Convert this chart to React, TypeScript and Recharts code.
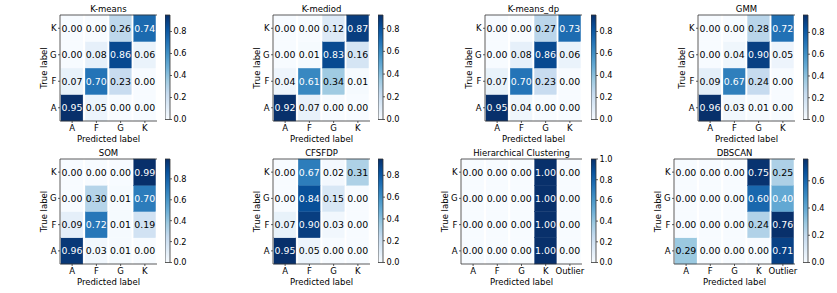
import React from 'react';
import { BarChart, Bar, XAxis, YAxis } from 'recharts';

const FONT = '"DejaVu Sans", sans-serif';

// ---------- data ----------
const trueLabels = ['A', 'F', 'G', 'K']; // bottom -> top
const predLabels4 = ['A', 'F', 'G', 'K'];
const predLabels5 = ['A', 'F', 'G', 'K', 'Outlier'];

const titles = ['K-means', 'K-mediod', 'K-means_dp', 'GMM', 'SOM', 'CFSFDP', 'Hierarchical Clustering', 'DBSCAN'];

// rows: true label A, F, G, K ; columns: predicted label
const kmeans = [
  [0.95, 0.05, 0.0, 0.0],
  [0.07, 0.7, 0.23, 0.0],
  [0.0, 0.08, 0.86, 0.06],
  [0.0, 0.0, 0.26, 0.74],
];
const kmediod = [
  [0.92, 0.07, 0.0, 0.0],
  [0.04, 0.61, 0.34, 0.01],
  [0.0, 0.01, 0.83, 0.16],
  [0.0, 0.0, 0.12, 0.87],
];
const kmeansDp = [
  [0.95, 0.04, 0.0, 0.0],
  [0.07, 0.7, 0.23, 0.0],
  [0.0, 0.08, 0.86, 0.06],
  [0.0, 0.0, 0.27, 0.73],
];
const gmm = [
  [0.96, 0.03, 0.01, 0.0],
  [0.09, 0.67, 0.24, 0.0],
  [0.0, 0.04, 0.9, 0.05],
  [0.0, 0.0, 0.28, 0.72],
];
const som = [
  [0.96, 0.03, 0.01, 0.0],
  [0.09, 0.72, 0.01, 0.19],
  [0.0, 0.3, 0.01, 0.7],
  [0.0, 0.0, 0.0, 0.99],
];
const cfsfdp = [
  [0.95, 0.05, 0.0, 0.0],
  [0.07, 0.9, 0.03, 0.0],
  [0.0, 0.84, 0.15, 0.0],
  [0.0, 0.67, 0.02, 0.31],
];
const hierarchical = [
  [0.0, 0.0, 0.0, 1.0, 0.0],
  [0.0, 0.0, 0.0, 1.0, 0.0],
  [0.0, 0.0, 0.0, 1.0, 0.0],
  [0.0, 0.0, 0.0, 1.0, 0.0],
];
const dbscan = [
  [0.29, 0.0, 0.0, 0.0, 0.71],
  [0.0, 0.0, 0.0, 0.24, 0.76],
  [0.0, 0.0, 0.0, 0.6, 0.4],
  [0.0, 0.0, 0.0, 0.75, 0.25],
];

const vmaxes = [0.95, 0.92, 0.95, 0.96, 0.99, 0.95, 1.0, 0.76];
const cbTicksA = [0, 0.2, 0.4, 0.6, 0.8];
const cbTicksB = [0, 0.2, 0.4, 0.6, 0.8, 1.0];
const cbTicksC = [0, 0.2, 0.4, 0.6];

// ---------- colormap ----------
const BLUES = ['#f7fbff', '#deebf7', '#c6dbef', '#9ecae1', '#6baed6', '#4292c6', '#2171b5', '#08519c', '#08306b'];
const hexToRgb = (h: string) => [parseInt(h.slice(1, 3), 16), parseInt(h.slice(3, 5), 16), parseInt(h.slice(5, 7), 16)];
function blues(t: number) {
  const tt = Math.max(0, Math.min(1, t));
  const p = tt * 8;
  const i = Math.min(7, Math.floor(p));
  const f = p - i;
  const a = hexToRgb(BLUES[i]);
  const b = hexToRgb(BLUES[i + 1]);
  const c = a.map((v, k) => Math.round(v + (b[k] - v) * f));
  return `rgb(${c[0]},${c[1]},${c[2]})`;
}

// ---------- layout ----------
const TOP_ROW = { top: 15, h: 106 };
const BOT_ROW = { top: 159, h: 105 };
const layouts = [
  { left: 59.5, w: 97, row: TOP_ROW },
  { left: 272.5, w: 97, row: TOP_ROW },
  { left: 485, w: 97, row: TOP_ROW },
  { left: 697.5, w: 97, row: TOP_ROW },
  { left: 59.5, w: 97, row: BOT_ROW },
  { left: 272.5, w: 97, row: BOT_ROW },
  { left: 461, w: 121, row: BOT_ROW },
  { left: 673.5, w: 121, row: BOT_ROW },
];

const LABEL_FS = 8.5;
const CELL_FS = 9.4;
const CB_FS = 8.2;
const LINE = '#333';

type PanelProps = {
  id: number;
  title: string;
  cols: string[];
  matrix: number[][];
  vmax: number;
  cbTicks: number[];
  left: number;
  top: number;
  w: number;
  h: number;
};

function Panel({ id, title, cols, matrix, vmax, cbTicks, left, top, w, h }: PanelProps) {
  const YW = 40;
  const MT = 14;
  const XH = 30;
  const MR = 4;
  const TOPH = 1;
  const cellW = w / cols.length;
  const data = cols.map((c, j) => {
    const d: any = { name: c };
    trueLabels.forEach((_, r) => {
      d['r' + r] = 1;
      d['v' + r] = matrix[r][j];
    });
    return d;
  });

  const shapeFor = (r: number) => (p: any) => {
    const v: number = p.payload['v' + r];
    const fill = blues(v / vmax);
    return (
      <g>
        <rect x={p.x} y={p.y} width={p.width} height={p.height} fill={fill} stroke={fill} strokeWidth={0.4} />
        <text
          x={p.x + p.width / 2}
          y={p.y + p.height / 2}
          textAnchor="middle"
          dominantBaseline="central"
          fontSize={CELL_FS}
          fontFamily={FONT}
          fill={v > vmax / 2 ? '#ffffff' : '#000000'}
        >
          {v.toFixed(2)}
        </text>
      </g>
    );
  };

  const cbW = 5;
  const cbLeft = left + w + 8.7;
  const cbTop = top + 0.3;
  const cbH = h - 1.5;
  const CBM = 6;
  const gid = `cbgrad${id}`;

  return (
    <>
      <div style={{ position: 'absolute', left: left - YW, top: top - MT }}>
        <BarChart
          width={YW + w + MR}
          height={MT + h + XH}
          data={data}
          margin={{ top: MT - TOPH, right: MR, bottom: 0, left: 0 }}
          barCategoryGap={0}
          barGap={0}
        >
          <XAxis
            dataKey="name"
            type="category"
            height={XH}
            interval={0}
            tickSize={2}
            tickMargin={2}
            tick={{ fontSize: LABEL_FS, fill: '#000', fontFamily: FONT }}
            tickLine={{ stroke: LINE, strokeWidth: 0.8 }}
            axisLine={{ stroke: LINE, strokeWidth: 0.8 }}
            label={() => (
              <text
                x={YW + w / 2}
                y={MT + h + 18}
                textAnchor="middle"
                dominantBaseline="central"
                fontSize={LABEL_FS}
                fontFamily={FONT}
                fill="#000"
              >
                Predicted label
              </text>
            )}
          />
          <XAxis
            xAxisId="t"
            dataKey="name"
            type="category"
            orientation="top"
            height={TOPH}
            tick={false}
            tickLine={false}
            axisLine={{ stroke: LINE, strokeWidth: 0.8 }}
          />
          <YAxis
            type="number"
            domain={[0, 4]}
            ticks={[0.5, 1.5, 2.5, 3.5]}
            tickFormatter={(v: number) => trueLabels[Math.floor(v)]}
            width={YW}
            interval={0}
            tickSize={2}
            tickMargin={1.5}
            tick={{ fontSize: LABEL_FS, fill: '#000', fontFamily: FONT }}
            tickLine={{ stroke: LINE, strokeWidth: 0.8 }}
            axisLine={{ stroke: LINE, strokeWidth: 0.8 }}
            label={() => (
              <g>
                <text
                  x={YW - 16}
                  y={MT + h / 2}
                  textAnchor="middle"
                  dominantBaseline="central"
                  fontSize={LABEL_FS}
                  fontFamily={FONT}
                  fill="#000"
                  transform={`rotate(-90 ${YW - 16} ${MT + h / 2})`}
                >
                  True label
                </text>
                <text
                  x={YW + w / 2}
                  y={MT - 6}
                  textAnchor="middle"
                  dominantBaseline="central"
                  fontSize={LABEL_FS}
                  fontFamily={FONT}
                  fill="#000"
                >
                  {title}
                </text>
              </g>
            )}
          />
          <YAxis
            yAxisId="r"
            orientation="right"
            width={0}
            domain={[0, 4]}
            tick={false}
            tickLine={false}
            axisLine={{ stroke: LINE, strokeWidth: 0.8 }}
          />
          {trueLabels.map((_, r) => (
            <Bar
              key={r}
              dataKey={'r' + r}
              stackId="s"
              barSize={cellW}
              isAnimationActive={false}
              shape={shapeFor(r)}
            />
          ))}
        </BarChart>
      </div>
      <div style={{ position: 'absolute', left: cbLeft, top: cbTop - CBM }}>
        <BarChart
          width={cbW + 28}
          height={cbH + 2 * CBM}
          data={[{ name: 'cb', v: vmax }]}
          margin={{ top: CBM, right: 0, bottom: CBM, left: 0 }}
          barCategoryGap={0}
        >
          <defs>
            <linearGradient id={gid} x1="0" y1="1" x2="0" y2="0">
              {BLUES.map((c, i) => (
                <stop key={i} offset={i / 8} stopColor={c} />
              ))}
            </linearGradient>
          </defs>
          <XAxis dataKey="name" hide />
          <YAxis
            orientation="right"
            type="number"
            domain={[0, vmax]}
            ticks={cbTicks}
            interval={0}
            width={28}
            tickSize={2}
            tickMargin={1.5}
            axisLine={false}
            tickFormatter={(v: number) => v.toFixed(1)}
            tick={{ fontSize: CB_FS, fill: '#000', fontFamily: FONT }}
            tickLine={{ stroke: LINE, strokeWidth: 0.8 }}
          />
          <Bar dataKey="v" fill={`url(#${gid})`} stroke={LINE} strokeWidth={0.8} isAnimationActive={false} />
        </BarChart>
      </div>
    </>
  );
}

const matrices = [kmeans, kmediod, kmeansDp, gmm, som, cfsfdp, hierarchical, dbscan];
const colSets = [predLabels4, predLabels4, predLabels4, predLabels4, predLabels4, predLabels4, predLabels5, predLabels5];
const tickSets = [cbTicksA, cbTicksA, cbTicksA, cbTicksA, cbTicksA, cbTicksA, cbTicksB, cbTicksC];

export default function App() {
  return (
    <div
      style={{
        position: 'absolute',
        left: 0,
        top: 0,
        width: 837,
        height: 293,
        background: '#ffffff',
        fontFamily: FONT,
        overflow: 'hidden',
      }}
    >
      {titles.map((t, i) => (
        <Panel
          key={i}
          id={i}
          title={t}
          cols={colSets[i]}
          matrix={matrices[i]}
          vmax={vmaxes[i]}
          cbTicks={tickSets[i]}
          left={layouts[i].left}
          top={layouts[i].row.top}
          w={layouts[i].w}
          h={layouts[i].row.h}
        />
      ))}
    </div>
  );
}
